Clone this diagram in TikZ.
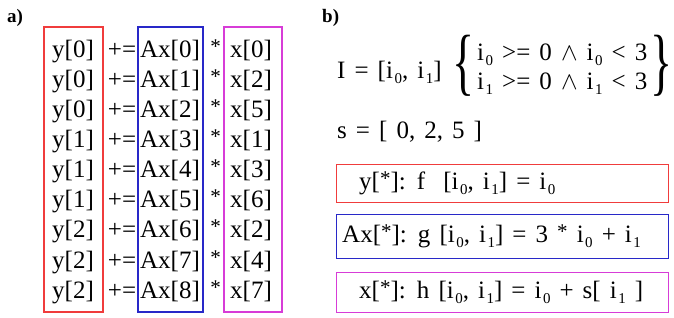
\documentclass[tikz,border=0pt]{standalone}
\usepackage{fontspec}
\setmainfont{Liberation Serif}[WordSpace=1.45]
\definecolor{colred}{RGB}{240,60,60}
\definecolor{colblue}{RGB}{40,40,200}
\definecolor{colmag}{RGB}{215,60,215}
\newcommand{\ix}[1]{i\kern1.5pt\raisebox{-5pt}{\fontsize{15}{15}\selectfont #1}}
\newcommand{\st}{\raisebox{4pt}{\fontsize{21}{21}\selectfont *}}
\tikzset{
  cell/.style={anchor=base, inner sep=0pt, font=\fontsize{25}{30}\selectfont},
  tag/.style={anchor=base west, inner sep=0pt, font=\fontsize{19}{23}\selectfont\bfseries},
  frame/.style={line width=1.2pt},
  mapbox/.style={frame, minimum width=332pt, minimum height=#1, anchor=north west, inner sep=0pt},
  curly/.style={anchor=base, inner sep=0pt, font=\fontsize{74}{74}\selectfont},
}
\begin{document}
\begin{tikzpicture}[x=1pt,y=-1pt]
\useasboundingbox (0,0) rectangle (674,317);
% panel a
\node[tag] (ta) at (7,22) {a)};
\foreach \r/\yi/\ai/\xi in {1/0/0/0,2/0/1/2,3/0/2/5,4/1/3/1,5/1/4/3,6/1/5/6,7/2/6/2,8/2/7/4,9/2/8/7}
{
  \node[cell] (y\r) at (73,{57+30.15*(\r-1)}) {y[\yi]};
  \node[cell] (p\r) at (122,{57+30.15*(\r-1)}) {+=};
  \node[cell] (a\r) at (170,{57+30.15*(\r-1)}) {Ax[\ai]};
  \node[cell] (m\r) at (215.5,{57+30.15*(\r-1)}) {\st};
  \node[cell] (x\r) at (251,{57+30.15*(\r-1)}) {x[\xi]};
}
\draw[frame, colred] (44,27) rectangle (103,312);
\draw[frame, colblue] (138,27) rectangle (203,312);
\draw[frame, colmag] (224,27) rectangle (282,312);

% panel b
\node[tag] (tb) at (322,22) {b)};
\node[cell, anchor=base west] (iset) at (337,78) {I = [\ix0, \ix1]};
\node[curly] (lbrace) at (464,86) {\scalebox{0.62}[1]{\{}};
\node[curly] (rbrace) at (661.5,86) {\scalebox{0.62}[1]{\}}};
\node[cell, anchor=base west] (bnd0) at (477,60) {\ix0 >= 0 $\wedge$ \ix0 < 3};
\node[cell, anchor=base west] (bnd1) at (477,89) {\ix1 >= 0 $\wedge$ \ix1 < 3};
\node[cell, anchor=base west] (sarr) at (337,138) {s = [ 0, 2, 5 ]};

\node[mapbox=38pt, draw=colred] (fbox) at (336,164) {};
\node[cell, anchor=west] (ftext) at ([xshift=23pt]fbox.west) {y[\st]: f\ \ [\ix0, \ix1] = \ix0};
\node[mapbox=44pt, draw=colblue] (gbox) at (336,214) {};
\node[cell, anchor=west] (gtext) at ([xshift=6pt]gbox.west) {Ax[\st]: g [\ix0, \ix1] = 3 \st\ \ix0 + \ix1};
\node[mapbox=40pt, draw=colmag] (hbox) at (336,272) {};
\node[cell, anchor=west] (htext) at ([xshift=23pt]hbox.west) {x[\st]: h [\ix0, \ix1] = \ix0 + s[ \ix1 ]};
\end{tikzpicture}
\end{document}
